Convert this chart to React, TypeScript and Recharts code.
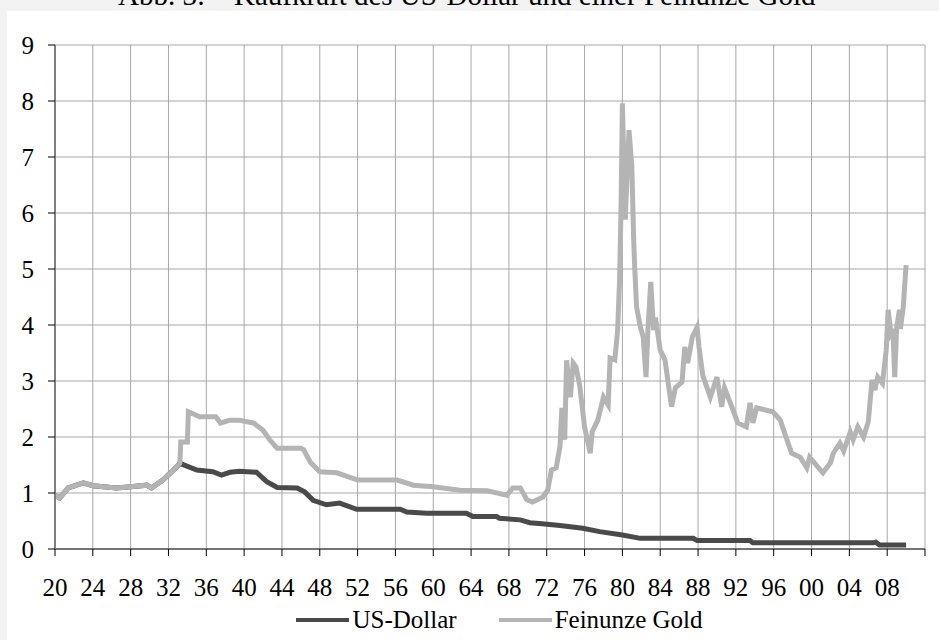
import { LineChart, Line, XAxis, YAxis, CartesianGrid, Legend } from 'recharts';

// Kaufkraft (Index), Werte
const dollarYears = [
  1920.0, 1920.5, 1921.4, 1923.0, 1924.0, 1926.5, 1928.0, 1929.7, 1930.2, 1931.4, 1932.9, 1933.2,
  1935.0, 1936.7, 1937.6, 1938.5, 1939.5, 1941.3, 1942.4, 1943.5, 1945.6, 1946.4, 1947.3, 1948.7,
  1950.1, 1951.9, 1956.5, 1957.2, 1959.3, 1963.5, 1964.2, 1966.7, 1967.0, 1969.2, 1970.2, 1971.5,
  1973.4, 1975.8, 1977.6, 1980.0, 1981.9, 1987.5, 1987.9, 1993.5, 1993.8, 2006.5, 2006.8, 2007.2,
  2010.0,
];
const dollarValues = [
  0.96, 0.91, 1.09, 1.18, 1.13, 1.09, 1.11, 1.14, 1.09, 1.23, 1.47, 1.53,
  1.41, 1.38, 1.32, 1.37, 1.39, 1.37, 1.2, 1.1, 1.09, 1.02, 0.87, 0.79,
  0.82, 0.71, 0.71, 0.66, 0.64, 0.64, 0.58, 0.58, 0.55, 0.52, 0.47, 0.45,
  0.42, 0.37, 0.31, 0.25, 0.19, 0.19, 0.15, 0.15, 0.11, 0.11, 0.12, 0.07,
  0.07,
];

const goldYears = [
  1920.0, 1920.5, 1921.4, 1923.0, 1924.0, 1926.5, 1928.0, 1929.7, 1930.2, 1931.4, 1932.9, 1933.2,
  1933.3, 1934.0, 1934.1, 1935.3, 1937.0, 1937.5, 1938.5, 1939.5, 1941.0, 1942.0, 1942.7, 1943.5,
  1946.0, 1946.3, 1947.0, 1948.0, 1949.8, 1952.0, 1956.2, 1957.9, 1960.0, 1962.8, 1965.7, 1967.8,
  1968.4, 1969.2, 1969.9, 1970.5, 1971.6, 1972.1, 1972.5, 1973.0, 1973.4, 1973.6, 1973.9, 1974.1,
  1974.5, 1974.8, 1975.1, 1975.5, 1976.0, 1976.6, 1976.8, 1977.4, 1978.0, 1978.5, 1978.7, 1979.2,
  1979.5, 1979.7, 1979.85, 1980.0, 1980.3, 1980.7, 1981.0, 1981.2, 1981.3, 1981.5, 1981.9, 1982.2,
  1982.5, 1982.7, 1983.0, 1983.3, 1983.5, 1984.0, 1984.5, 1984.8, 1985.2, 1985.6, 1986.3, 1986.6,
  1986.9, 1987.4, 1987.9, 1988.1, 1988.5, 1989.3, 1990.0, 1990.5, 1990.8, 1991.7, 1992.2, 1993.1,
  1993.5, 1993.8, 1994.2, 1995.9, 1996.5, 1996.7, 1997.4, 1997.9, 1998.8, 1999.5, 1999.8, 2001.2,
  2002.0, 2002.3, 2003.0, 2003.4, 2004.1, 2004.4, 2004.9, 2005.5, 2006.0, 2006.4, 2006.7, 2007.0,
  2007.5, 2007.9, 2008.1, 2008.4, 2008.6, 2008.8, 2009.0, 2009.3, 2009.4, 2009.7, 2010.0,
];
const goldValues = [
  0.96, 0.91, 1.09, 1.18, 1.13, 1.09, 1.11, 1.14, 1.09, 1.23, 1.47, 1.53,
  1.91, 1.91, 2.45, 2.36, 2.36, 2.25, 2.3, 2.3, 2.25, 2.12, 1.95, 1.8,
  1.8, 1.77, 1.55, 1.38, 1.36, 1.23, 1.23, 1.14, 1.11, 1.05, 1.04, 0.96,
  1.09, 1.09, 0.88, 0.84, 0.93, 1.05, 1.41, 1.45, 1.83, 2.52, 1.95, 3.37,
  2.71, 3.32, 3.25, 2.9, 2.18, 1.71, 2.09, 2.3, 2.71, 2.57, 3.41, 3.38,
  3.91, 4.8, 6.0, 7.96, 5.88, 7.48, 6.82, 5.48, 5.04, 4.32, 3.96, 3.79,
  3.07, 3.91, 4.77, 3.91, 4.13, 3.55, 3.38, 3.02, 2.54, 2.88, 2.98, 3.61,
  3.32, 3.79, 3.96, 3.61, 3.1, 2.71, 3.07, 2.54, 2.88, 2.48, 2.25, 2.18,
  2.61, 2.25, 2.52, 2.45, 2.34, 2.3, 1.95, 1.71, 1.64, 1.45, 1.64, 1.36,
  1.54, 1.71, 1.89, 1.75, 2.09, 1.95, 2.18, 2.0, 2.27, 3.02, 2.84, 3.07,
  2.96, 3.55, 4.27, 3.86, 3.93, 3.07, 3.96, 4.27, 3.93, 4.32, 5.07,
];

const yearTicks = [
  1920, 1924, 1928, 1932, 1936, 1940, 1944, 1948, 1952, 1956, 1960, 1964,
  1968, 1972, 1976, 1980, 1984, 1988, 1992, 1996, 2000, 2004, 2008, 2012,
];
const valueTicks = [0, 1, 2, 3, 4, 5, 6, 7, 8, 9];
const seriesNames = ['US-Dollar', 'Feinunze Gold'];
const seriesColors = ['#4a4a4a', '#b4b4b4'];

const dollarData = dollarYears.map((year, i) => ({ year, value: dollarValues[i] }));
const goldData = goldYears.map((year, i) => ({ year, value: goldValues[i] }));

const font = 'Liberation Serif, Times New Roman, serif';

function fmtYear(y: number) {
  if (y === 2012) return '';
  return String(y % 100).padStart(2, '0');
}

function renderLegend() {
  return (
    <div
      style={{
        display: 'flex',
        justifyContent: 'center',
        alignItems: 'center',
        height: 30,
        fontFamily: font,
        fontSize: 25,
        color: '#000',
        paddingLeft: 74,
      }}
    >
      {seriesNames.map((name, i) => (
        <div key={name} style={{ display: 'flex', alignItems: 'center', marginRight: i === 0 ? 42 : 0 }}>
          <div style={{ width: 53, height: 4, background: seriesColors[i], marginRight: 3 }} />
          <span>{name}</span>
        </div>
      ))}
    </div>
  );
}

export default function App() {
  return (
    <div style={{ position: 'fixed', left: 0, top: 0, width: 939, height: 640, background: '#f3f3f3', overflow: 'hidden' }}>
      <div style={{ position: 'absolute', left: 7, top: 11, right: 0, bottom: 0, background: '#fff' }} />
      <svg width={939} height={12} style={{ position: 'absolute', left: 0, top: 0, overflow: 'visible' }}>
        <text x={118} y={5} fontFamily={font} fontSize={29} fill="#000" xmlSpace="preserve">
          Abb. 3:{'    '}Kaufkraft des US-Dollar und einer Feinunze Gold
        </text>
      </svg>
      <div style={{ position: 'absolute', left: 0, top: 0 }}>
        <LineChart width={939} height={640} margin={{ top: 45, right: 14, bottom: 5, left: 0 }}>
          <CartesianGrid stroke="#a8a8a8" strokeWidth={1} />
          <XAxis
            type="number"
            dataKey="year"
            domain={[1920, 2012]}
            ticks={yearTicks}
            tickFormatter={fmtYear}
            height={56}
            tickSize={7}
            tickMargin={22}
            interval={0}
            axisLine={{ stroke: '#555', strokeWidth: 1.5 }}
            tickLine={{ stroke: '#000' }}
            tick={{ fill: '#000', fontSize: 25, fontFamily: font }}
            allowDuplicatedCategory={false}
          />
          <YAxis
            type="number"
            domain={[0, 9]}
            ticks={valueTicks}
            width={55}
            tickSize={7}
            tickMargin={14}
            interval={0}
            axisLine={{ stroke: '#7f7f7f', strokeWidth: 2 }}
            tickLine={{ stroke: '#000' }}
            tick={{ fill: '#000', fontSize: 25, fontFamily: font }}
          />
          <Legend verticalAlign="bottom" content={renderLegend} />
          <Line
            data={dollarData}
            dataKey="value"
            name={seriesNames[0]}
            stroke={seriesColors[0]}
            strokeWidth={5}
            dot={false}
            isAnimationActive={false}
          />
          <Line
            data={goldData}
            dataKey="value"
            name={seriesNames[1]}
            stroke={seriesColors[1]}
            strokeWidth={5}
            dot={false}
            isAnimationActive={false}
          />
        </LineChart>
      </div>
    </div>
  );
}
